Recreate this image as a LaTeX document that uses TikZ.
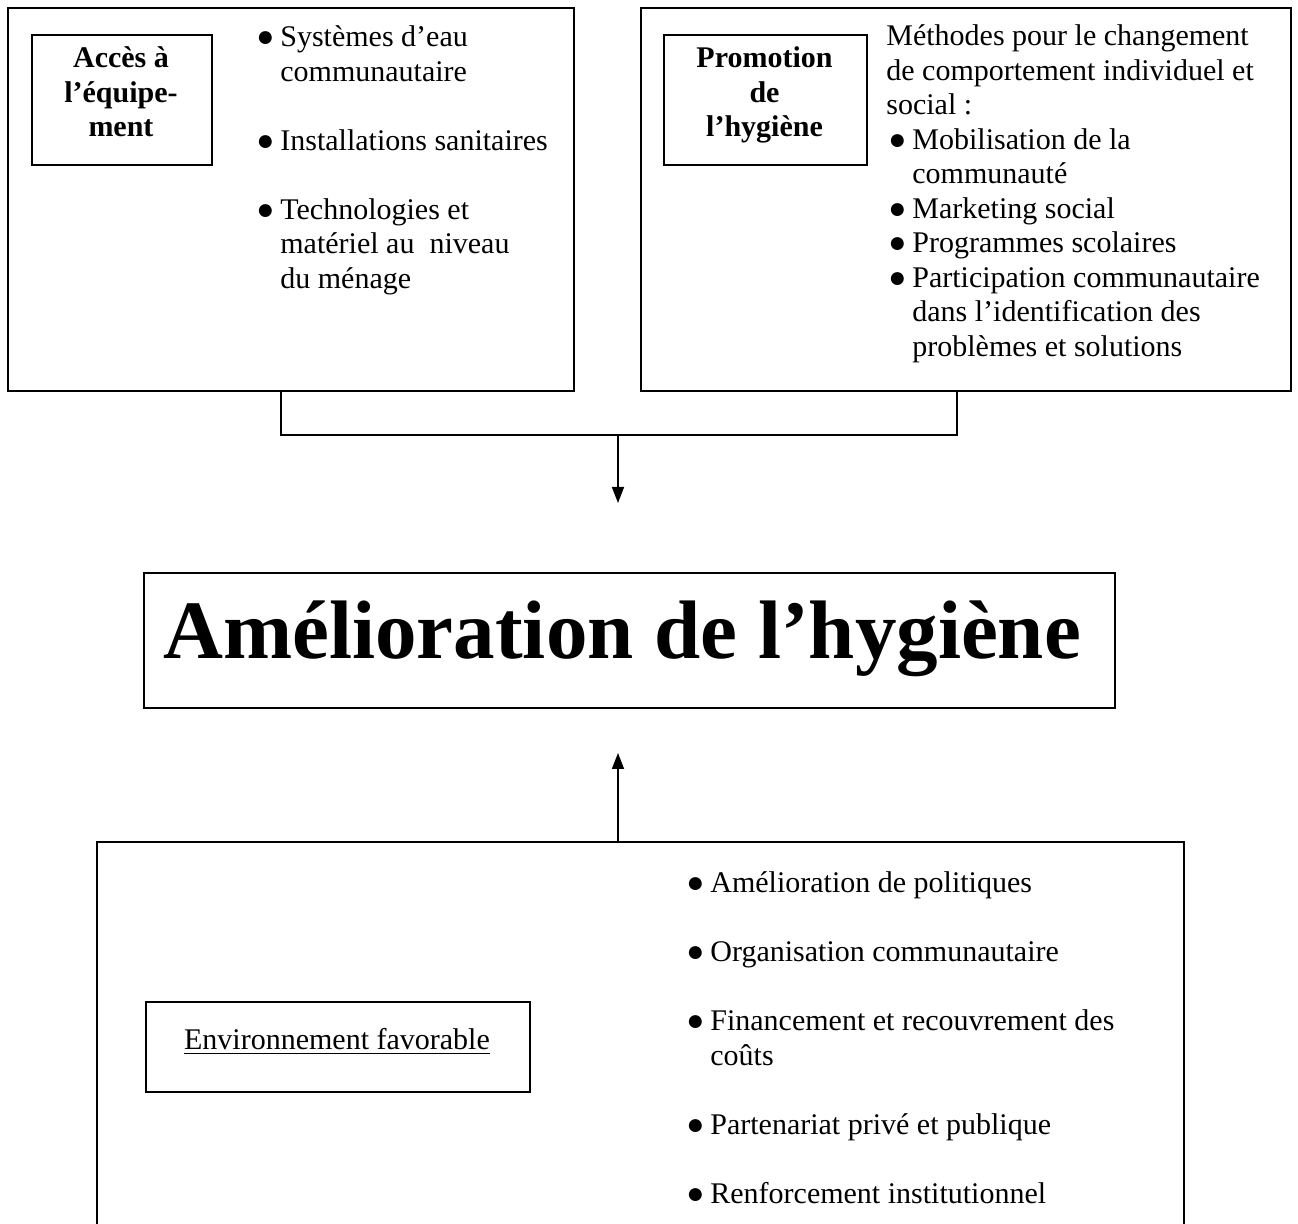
\documentclass[tikz,border=0pt]{standalone}
\usepackage{fontspec}
\setmainfont{Liberation Serif}
\usetikzlibrary{arrows.meta}
\newcommand{\bul}{\makebox[12pt][l]{●}}
\newcommand{\cont}{\hspace*{12pt}}
\begin{document}
\begin{tikzpicture}[x=0.5pt,y=-0.5pt,
  frame/.style={draw, line width=1pt, inner sep=0pt, anchor=north west},
  conn/.style={line width=0.75pt},
  arr/.style={conn, -{Triangle[width=6pt,length=8pt]}},
  body/.style={inner sep=0pt, font=\fontsize{15}{17.25}\selectfont},
]
\useasboundingbox (0,0) rectangle (1298,1224);

% top boxes
\node[frame, minimum width=283pt, minimum height=191.5pt] (boxA) at (7,7) {};
\node[frame, minimum width=325pt, minimum height=191.5pt] (boxB) at (640,7) {};
\node[frame, minimum width=90pt, minimum height=65pt] (inA) at (31,34) {};
\node[frame, minimum width=101.5pt, minimum height=65pt] (inB) at (663,34) {};
\node[body, anchor=base] (inAtext) at (121,68)
  {\parbox[t]{90pt}{\centering\bfseries Accès à\\ l’équipe-\\ ment}};
\node[body, anchor=base] (inBtext) at (764.5,68)
  {\parbox[t]{101pt}{\centering\bfseries Promotion\\ de\\ l’hygiène}};

\node[body, anchor=base west] (listA) at (256,47) {\parbox[t]{200pt}{\raggedright
\bul Systèmes d’eau\\ \cont communautaire\\[17.25pt]
\bul Installations sanitaires\\[17.25pt]
\bul Technologies et\\ \cont matériel au~ niveau\\ \cont du ménage}};

\node[body, anchor=base west] (listB) at (886,46) {\parbox[t]{250pt}{\raggedright
Méthodes pour le changement\\ de comportement individuel et\\ social :\\
\hspace*{1pt}\bul Mobilisation de la\\ \hspace*{1pt}\cont communauté\\
\hspace*{1pt}\bul Marketing social\\
\hspace*{1pt}\bul Programmes scolaires\\
\hspace*{1pt}\bul Participation communautaire\\ \hspace*{1pt}\cont dans l’identification des\\ \hspace*{1pt}\cont problèmes et solutions}};

% title
\node[frame, minimum width=485.5pt, minimum height=67.5pt] (title) at (143,572) {};
\node[inner sep=0pt, anchor=base west, font=\fontsize{41.5}{48}\selectfont\bfseries] (titletext) at (163,659) {Amélioration de l’hygiène};

% bottom container
\coordinate (botL) at (97,1240);
\coordinate (botTL) at (97,842);
\coordinate (botTR) at (1184,842);
\coordinate (botR) at (1184,1240);
\draw[line width=1pt] (botL) -- (botTL) -- (botTR) -- (botR);

\node[frame, minimum width=192pt, minimum height=45pt] (env) at (145,1001) {};
\node[body, anchor=base] (envtext) at (337,1050) {\underline{Environnement favorable}};

\node[body, anchor=base west] (listC) at (686,893) {\parbox[t]{250pt}{\raggedright
\bul Amélioration de politiques\\[17.25pt]
\bul Organisation communautaire\\[17.25pt]
\bul Financement et recouvrement des\\ \cont coûts\\[17.25pt]
\bul Partenariat privé et publique\\[17.25pt]
\bul Renforcement institutionnel}};

% connectors
\coordinate (jl) at (281,435);
\coordinate (jr) at (957,435);
\coordinate (jm) at (618,435);
\coordinate (downtip) at (618,503);
\coordinate (uptip) at (618,753);
\coordinate (upbase) at (618,842);
\draw[conn] (boxA.south -| jl) -- (jl) -- (jr) -- (boxB.south -| jr);
\draw[arr] (jm) -- (downtip);
\draw[arr] (upbase) -- (uptip);
\end{tikzpicture}
\end{document}
